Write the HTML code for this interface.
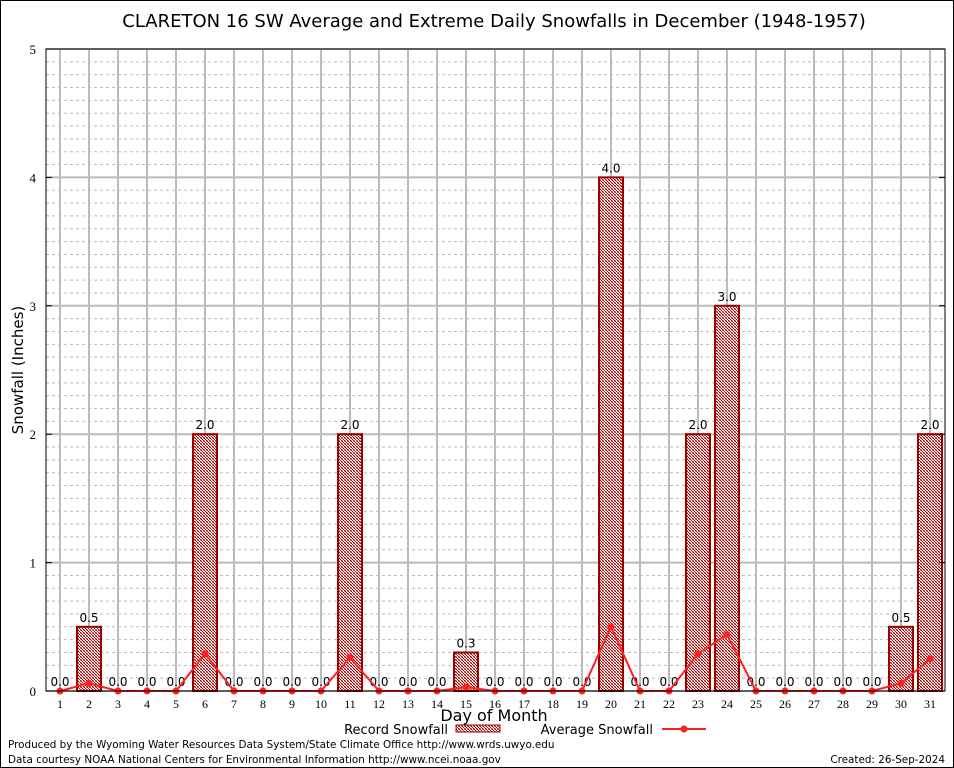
<!DOCTYPE html>
<html><head><meta charset="utf-8"><style>
body{margin:0;background:#fff}
svg{display:block}
</style></head><body>
<svg id="chart" width="954" height="768" xmlns="http://www.w3.org/2000/svg">
<defs>
<pattern id="hatch" width="3" height="3" patternUnits="userSpaceOnUse">
<rect width="3" height="3" fill="#fff"/>
<rect width="1" height="1" fill="#b00000"/>
<rect x="1" y="1" width="1" height="1" fill="#b00000"/>
<rect x="2" y="2" width="1" height="1" fill="#b00000"/>
<rect x="2" y="0" width="1" height="1" fill="#e08080"/>
<rect x="0" y="2" width="1" height="1" fill="#e08080"/>
</pattern>
</defs>
<rect x="0.5" y="0.5" width="953" height="767" fill="#fff" stroke="#000"/>
<text x="494" y="27" text-anchor="middle" font-family="DejaVu Sans, sans-serif" font-size="18">CLARETON 16 SW Average and Extreme Daily Snowfalls in December (1948-1957)</text>
<g id="grid"></g>
<g id="bars"></g>
<g id="line"></g>
<rect x="46" y="49" width="899" height="642" fill="none" stroke="#000"/>
<g id="axes"></g>
<text x="23" y="370" text-anchor="middle" transform="rotate(-90 23 370)" font-family="DejaVu Sans, sans-serif" font-size="15">Snowfall (Inches)</text>
<text x="494" y="721" text-anchor="middle" font-family="DejaVu Sans, sans-serif" font-size="16">Day of Month</text>
<g>
<text x="448" y="734" text-anchor="end" font-family="DejaVu Sans, sans-serif" font-size="13">Record Snowfall</text>
<rect x="456" y="725" width="44" height="7" fill="url(#hatch)" stroke="#900"/>
</g>
<g>
<text x="653" y="734" text-anchor="end" font-family="DejaVu Sans, sans-serif" font-size="13">Average Snowfall</text>
<line x1="662" y1="729" x2="706" y2="729" stroke="#ff2020" stroke-width="2"/>
<circle cx="684" cy="729" r="3.5" fill="#ff2020"/>
</g>
<text x="8" y="748" font-family="DejaVu Sans, sans-serif" font-size="10.4">Produced by the Wyoming Water Resources Data System/State Climate Office http://www.wrds.uwyo.edu</text>
<text x="8" y="763" font-family="DejaVu Sans, sans-serif" font-size="10.4">Data courtesy NOAA National Centers for Environmental Information http://www.ncei.noaa.gov</text>
<text x="945" y="763" text-anchor="end" font-family="DejaVu Sans, sans-serif" font-size="10.4">Created: 26-Sep-2024</text>
</svg>
<script>
const days = [1,2,3,4,5,6,7,8,9,10,11,12,13,14,15,16,17,18,19,20,21,22,23,24,25,26,27,28,29,30,31];
const recordVals = [0,0.5,0,0,0,2,0,0,0,0,2,0,0,0,0.3,0,0,0,0,4,0,0,2,3,0,0,0,0,0,0.5,2];
const avgVals = [0,0.06,0,0,0,0.29,0,0,0,0,0.26,0,0,0,0.03,0,0,0,0,0.5,0,0,0.29,0.44,0,0,0,0,0,0.06,0.25];
const yTicks = [0,1,2,3,4,5];
const NS="http://www.w3.org/2000/svg";
const X0=60, DX=29, Y0=691, YS=128.4;
function xs(d){return X0+(d-1)*DX;}
function ys(v){return Y0-v*YS;}
function mk(tag,attrs,parent){const e=document.createElementNS(NS,tag);for(const k in attrs)e.setAttribute(k,attrs[k]);parent.appendChild(e);return e;}
const grid=document.getElementById('grid'),bars=document.getElementById('bars'),line=document.getElementById('line'),axes=document.getElementById('axes');
for(let i=1;i<50;i++){if(i%10===0)continue;const y=ys(i/10);
const g=mk('line',{x1:46,x2:945,y1:y,y2:y,stroke:'#bbb','stroke-dasharray':'3,3','stroke-width':1},grid);

}
yTicks.forEach(t=>{const y=ys(t);
const g=mk('line',{x1:46,x2:945,y1:y,y2:y,stroke:'#bbb','stroke-width':2},grid);


mk('line',{x1:46,x2:52,y1:y,y2:y,stroke:'#000'},axes);
mk('line',{x1:939,x2:945,y1:y,y2:y,stroke:'#000'},axes);
const tx=mk('text',{x:36,y:y+5,'text-anchor':'end','font-family':'Liberation Serif, serif','font-size':13},axes);
tx.textContent=t;

});
days.forEach(d=>{const x=xs(d);
const g=mk('line',{x1:x,x2:x,y1:49,y2:691,stroke:'#bbb','stroke-width':2},grid);


const tx=mk('text',{x:x,y:708,'text-anchor':'middle','font-family':'Liberation Serif, serif','font-size':12},axes);
tx.textContent=d;

});
days.forEach((d,i)=>{const v=recordVals[i],x=xs(d);
if(v>0){const r=mk('rect',{x:x-12,y:ys(v),width:24,height:v*YS,fill:'url(#hatch)',stroke:'#900','stroke-width':2},bars);

}
const t=mk('text',{x:x,y:ys(v)-5,'text-anchor':'middle','font-family':'DejaVu Sans, sans-serif','font-size':12},bars);
t.textContent=v.toFixed(1);

});
const pts=days.map((d,i)=>xs(d)+','+ys(avgVals[i])).join(' ');
const pl=mk('polyline',{points:pts,fill:'none',stroke:'#ff2020','stroke-width':2},line);


days.forEach((d,i)=>{const c=mk('circle',{cx:xs(d),cy:ys(avgVals[i]),r:3.5,fill:'#ff2020'},line);

});
</script>
</body></html>
